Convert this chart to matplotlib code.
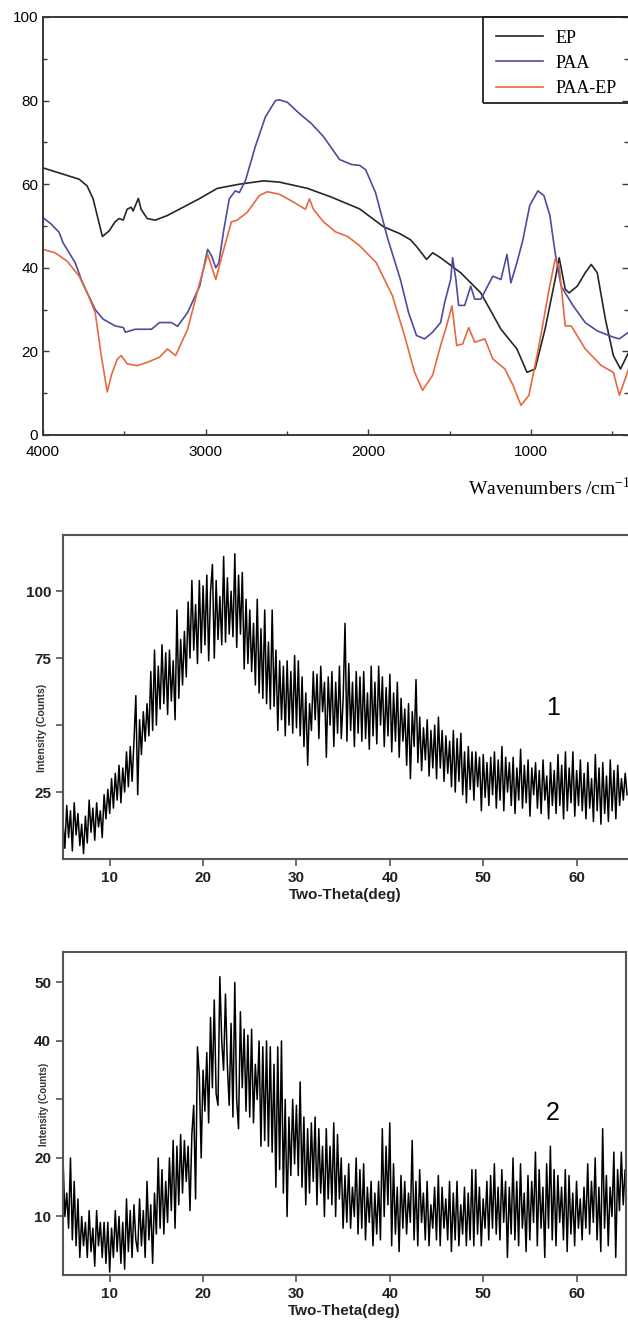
import numpy as np
import matplotlib
matplotlib.use("Agg")
import matplotlib.pyplot as plt
from matplotlib.patches import Rectangle
from matplotlib.ticker import MultipleLocator

plt.rcParams['mathtext.fontset'] = 'custom'
plt.rcParams['mathtext.rm'] = 'Liberation Serif'

# ---------------- FTIR data ----------------
ep_wn = [4000, 3778, 3729, 3692, 3635, 3594, 3557, 3532, 3507, 3483, 3458, 3446, 3414, 3397,
         3360, 3310, 3236, 3163, 3040, 2929, 2793, 2645, 2547, 2374, 2227, 2054, 1906, 1808,
         1741, 1704, 1642, 1605, 1556, 1432, 1309, 1185, 1087, 1025, 975, 914, 852, 827, 790,
         766, 716, 667, 630, 593, 543, 494, 450, 400]
ep_t = [63.9, 61.2, 59.6, 56.5, 47.5, 48.8, 51.0, 51.8, 51.4, 54.0, 54.5, 53.6, 56.6, 54.0,
        51.8, 51.4, 52.5, 54.0, 56.5, 59.0, 60.0, 60.8, 60.5, 59.0, 56.9, 54.1, 49.8, 48.2,
        46.7, 45.1, 42.0, 43.6, 42.4, 38.8, 34.0, 25.3, 20.6, 15.0, 15.8, 25.3, 37.2, 42.4,
        34.9, 34.0, 35.6, 38.8, 40.8, 38.8, 27.7, 19.0, 15.8, 19.8]

paa_wn = [4000, 3951, 3901, 3877, 3802, 3765, 3728, 3679, 3630, 3556, 3506, 3494, 3432, 3333,
          3284, 3210, 3173, 3111, 3037, 2988, 2963, 2938, 2919, 2889, 2855, 2818, 2793, 2756,
          2695, 2633, 2571, 2547, 2498, 2424, 2350, 2276, 2177, 2103, 2054, 2017, 1956, 1882,
          1803, 1753, 1704, 1654, 1605, 1556, 1531, 1494, 1482, 1462, 1445, 1408, 1371, 1346,
          1309, 1235, 1185, 1148, 1124, 1087, 1050, 1008, 958, 921, 884, 852, 815, 741, 667,
          593, 494, 457, 400]
paa_t = [52.0, 50.5, 48.5, 46.0, 41.2, 37.2, 34.0, 30.0, 27.7, 26.1, 25.7, 24.6, 25.3, 25.3,
         26.9, 26.9, 26.0, 29.3, 35.6, 44.4, 42.8, 40.0, 41.2, 49.0, 56.5, 58.4, 58.0, 60.8,
         69.0, 76.1, 80.0, 80.2, 79.6, 76.9, 74.5, 71.4, 65.9, 64.7, 64.5, 63.5, 58.0, 47.1,
         37.2, 29.3, 23.8, 23.0, 24.6, 26.9, 31.7, 37.2, 42.4, 37.2, 31.0, 31.0, 35.6, 32.5,
         32.5, 38.0, 37.2, 43.2, 36.4, 41.2, 46.7, 54.9, 58.4, 57.3, 52.5, 43.6, 35.6, 30.9,
         26.9, 24.9, 23.4, 23.0, 24.6]

pep_wn = [4000, 3926, 3852, 3778, 3728, 3679, 3642, 3605, 3580, 3543, 3519, 3482, 3420, 3358,
          3284, 3235, 3185, 3111, 3037, 2988, 2938, 2889, 2842, 2806, 2744, 2670, 2621, 2547,
          2473, 2387, 2362, 2338, 2276, 2202, 2128, 2054, 1951, 1852, 1778, 1716, 1667, 1605,
          1556, 1519, 1486, 1457, 1420, 1383, 1346, 1284, 1235, 1161, 1111, 1062, 1013, 951,
          889, 852, 827, 790, 753, 667, 568, 494, 457, 400]
pep_t = [44.4, 43.6, 41.6, 38.0, 34.0, 29.3, 19.0, 10.3, 14.3, 18.2, 19.0, 17.0, 16.6, 17.4,
         18.6, 20.6, 19.0, 25.3, 36.4, 43.2, 37.2, 44.4, 51.0, 51.4, 53.3, 57.3, 58.2, 57.6,
         56.0, 54.0, 56.5, 54.0, 51.0, 48.6, 47.5, 45.3, 41.2, 33.3, 23.8, 15.0, 10.7, 14.3,
         21.4, 26.1, 30.9, 21.4, 21.8, 25.7, 22.2, 23.0, 18.2, 15.8, 11.9, 7.1, 9.5, 21.4,
         34.9, 42.0, 40.4, 26.1, 26.1, 20.6, 16.6, 15.0, 9.5, 15.8]

ftir_labels = ["EP", "PAA", "PAA-EP"]
ftir_colors = ["#262626", "#4d4b9c", "#e8683f"]

# ---------------- XRD data (2-theta from 5.0 in steps of 0.2 deg) ----------------
xrd_start, xrd_step = 5.0, 0.2
xrd1 = [14, 4, 20, 8, 18, 3, 21, 9, 17, 5,
        13, 2, 16, 6, 22, 10, 19, 7, 21, 12,
        18, 8, 24, 15, 26, 17, 30, 19, 32, 22,
        35, 21, 34, 25, 40, 27, 42, 29, 44, 61,
        24, 52, 39, 55, 44, 58, 46, 70, 48, 78,
        50, 72, 56, 80, 58, 77, 54, 78, 59, 74,
        52, 93, 60, 82, 65, 85, 68, 96, 75, 104,
        78, 95, 73, 104, 77, 102, 80, 106, 74, 100,
        110, 75, 104, 82, 98, 80, 113, 81, 105, 84,
        100, 83, 114, 79, 106, 84, 107, 71, 97, 73,
        93, 70, 88, 65, 97, 62, 86, 60, 93, 58,
        81, 56, 93, 57, 78, 48, 74, 52, 72, 46,
        74, 50, 70, 47, 76, 49, 74, 46, 68, 42,
        62, 35, 58, 48, 70, 52, 69, 45, 72, 55,
        66, 38, 68, 50, 70, 42, 66, 47, 72, 45,
        60, 88, 44, 73, 48, 66, 42, 70, 47, 68,
        44, 70, 45, 62, 41, 72, 46, 66, 43, 72,
        50, 68, 42, 64, 46, 69, 40, 62, 44, 66,
        38, 60, 44, 56, 35, 58, 30, 55, 42, 67,
        36, 53, 33, 49, 37, 52, 31, 48, 34, 50,
        30, 53, 34, 48, 29, 46, 32, 44, 27, 48,
        25, 45, 29, 47, 24, 40, 21, 42, 26, 40,
        22, 40, 27, 38, 18, 39, 23, 36, 20, 38,
        24, 40, 19, 37, 22, 42, 18, 38, 25, 36,
        20, 38, 17, 34, 22, 41, 19, 35, 21, 37,
        16, 34, 24, 36, 19, 33, 17, 37, 22, 31,
        15, 36, 20, 33, 17, 39, 20, 35, 15, 40,
        18, 34, 21, 40, 16, 33, 20, 37, 18, 32,
        15, 36, 19, 30, 14, 39, 18, 34, 13, 36,
        17, 31, 14, 37, 18, 33, 15, 35, 20, 30,
        22, 32, 24]

xrd2 = [20, 10, 14, 8, 20, 6, 16, 5, 13, 3,
        10, 5, 9, 3, 11, 4, 8, 1.5, 11, 5,
        9, 3, 9, 2, 9, 0.5, 8, 3, 11, 4,
        10, 2, 9, 1, 13, 4, 11, 3, 12, 6,
        4, 13, 5, 11, 3, 16, 6, 12, 2, 14,
        7, 20, 8, 18, 7, 16, 9, 20, 11, 23,
        8, 22, 12, 24, 14, 23, 16, 22, 11, 24,
        29, 13, 39, 34, 20, 35, 28, 38, 26, 44,
        32, 47, 31, 29, 51, 40, 35, 48, 36, 29,
        43, 27, 50, 30, 25, 45, 32, 42, 28, 41,
        27, 42, 26, 36, 30, 40, 22, 39, 23, 40,
        22, 39, 21, 36, 15, 39, 18, 40, 14, 30,
        10, 27, 17, 30, 19, 29, 17, 33, 15, 27,
        12, 25, 14, 26, 16, 27, 12, 25, 14, 22,
        10, 25, 13, 22, 12, 26, 10, 24, 13, 20,
        8, 17, 9, 19, 8, 15, 10, 20, 7, 18,
        8, 19, 6, 15, 9, 16, 5, 14, 7, 16,
        6, 25, 10, 22, 12, 26, 5, 19, 7, 15,
        4, 17, 8, 16, 7, 14, 9, 23, 6, 16,
        5, 18, 9, 14, 6, 16, 5, 12, 8, 15,
        6, 17, 5, 15, 8, 13, 6, 16, 4, 14,
        6, 16, 5, 12, 7, 15, 5, 14, 6, 18,
        5, 18, 7, 15, 5, 13, 8, 16, 6, 17,
        8, 19, 7, 15, 6, 18, 9, 16, 3, 15,
        7, 20, 6, 16, 5, 19, 8, 14, 4, 17,
        6, 16, 9, 21, 5, 18, 8, 15, 3, 19,
        8, 22, 6, 18, 5, 17, 9, 15, 6, 18,
        4, 17, 7, 14, 5, 16, 8, 13, 6, 15,
        8, 19, 7, 16, 9, 20, 6, 15, 4, 25,
        8, 17, 5, 15, 10, 21, 3, 18, 11, 21,
        12, 18, 10]

xrd1_x = xrd_start + xrd_step * np.arange(len(xrd1))
xrd2_x = xrd_start + xrd_step * np.arange(len(xrd2))

W, H = 628, 1328
fig = plt.figure(figsize=(W / 100, H / 100), dpi=100)
fig.patch.set_facecolor("white")


def rect(l, t, r, b):
    return [l / W, 1 - b / H, (r - l) / W, (b - t) / H]


sans = "Liberation Sans"
serif = "Liberation Serif"
spine_col = "#3a3a3a"

# ---------------- Top FTIR ----------------
ax1 = fig.add_axes(rect(43, 17, 628, 435))
for wn, t, lab, c in zip([ep_wn, paa_wn, pep_wn], [ep_t, paa_t, pep_t], ftir_labels, ftir_colors):
    ax1.plot(wn, t, color=c, lw=1.2, label=lab)
ax1.set_xlim(4000, 404)
ax1.set_ylim(0, 100)
ax1.xaxis.set_major_locator(MultipleLocator(1000))
ax1.xaxis.set_minor_locator(MultipleLocator(500))
ax1.yaxis.set_major_locator(MultipleLocator(20))
ax1.yaxis.set_minor_locator(MultipleLocator(10))
ax1.tick_params(which="both", direction="in", right=True, colors=spine_col, labelcolor="black",
                labelsize=11, width=1)
ax1.tick_params(which="major", length=4)
ax1.tick_params(which="minor", length=3)
ax1.tick_params(axis="x", pad=7)
for lab in ax1.get_xticklabels() + ax1.get_yticklabels():
    lab.set_fontfamily(sans)
for s in ax1.spines.values():
    s.set_color(spine_col)
    s.set_linewidth(1.4)
ax1.spines["right"].set_visible(False)

leg = ax1.legend(loc="upper left", bbox_to_anchor=(0.752, 1.0), frameon=False,
                 prop={"family": serif, "size": 13}, handlelength=2.6, handletextpad=0.7,
                 labelspacing=0.45, borderpad=0.7, borderaxespad=0)
ax1.add_patch(Rectangle((0.752, 0.795), 0.3, 0.205, transform=ax1.transAxes, fill=False,
                        edgecolor="#222222", lw=1.3, clip_on=False, zorder=5))
fig.text(468 / W, 1 - 488 / H, "Wavenumbers /cm$^{-1}$", family=serif, fontsize=14,
         ha="left", va="center")

# ---------------- XRD panels ----------------
def xrd_axes(box, x, y, ylim, yticks, ylabels, num, num_xy, xlim_right):
    ax = fig.add_axes(box)
    ax.plot(x, y, color="black", lw=1.1)
    ax.set_xlim(5, xlim_right)
    ax.set_ylim(*ylim)
    ax.set_xticks([10, 20, 30, 40, 50, 60])
    ax.set_yticks(yticks)
    ax.set_yticklabels(ylabels)
    ax.tick_params(direction="out", length=5, width=1.2, colors="#555555", labelcolor="#222222",
                   labelsize=11)
    for lab in ax.get_xticklabels() + ax.get_yticklabels():
        lab.set_fontfamily(sans)
        lab.set_fontweight("bold")
    for s in ax.spines.values():
        s.set_color("#555555")
        s.set_linewidth(1.5)
    ax.set_xlabel("Two-Theta(deg)", family=sans, fontweight="bold", fontsize=11,
                  color="#222222", labelpad=2)
    ax.text(num_xy[0], num_xy[1], num, family=sans, fontsize=18, ha="center", va="center")
    return ax


ax2 = xrd_axes(rect(63, 535, 628, 859), xrd1_x, xrd1, (0, 121), [25, 50, 75, 100],
               ["25", "", "75", "100"], "1", (57.5, 56.5), 65.5)
ax2.spines["right"].set_visible(False)
fig.text(42 / W, 1 - 728 / H, "Intensity (Counts)", rotation=90, family=sans,
         fontweight="bold", fontsize=7.5, color="#333333", ha="center", va="center")

ax3 = xrd_axes(rect(63, 952, 626, 1275), xrd2_x, xrd2, (0, 55.2), [10, 20, 30, 40, 50],
               ["10", "20", "", "40", "50"], "2", (57.4, 27.7), 65.3)
fig.text(44 / W, 1 - 1104 / H, "Intensity (Counts)", rotation=90, family=sans,
         fontweight="bold", fontsize=7, color="#333333", ha="center", va="center")

fig.savefig("out.png", dpi=100, facecolor="white")
